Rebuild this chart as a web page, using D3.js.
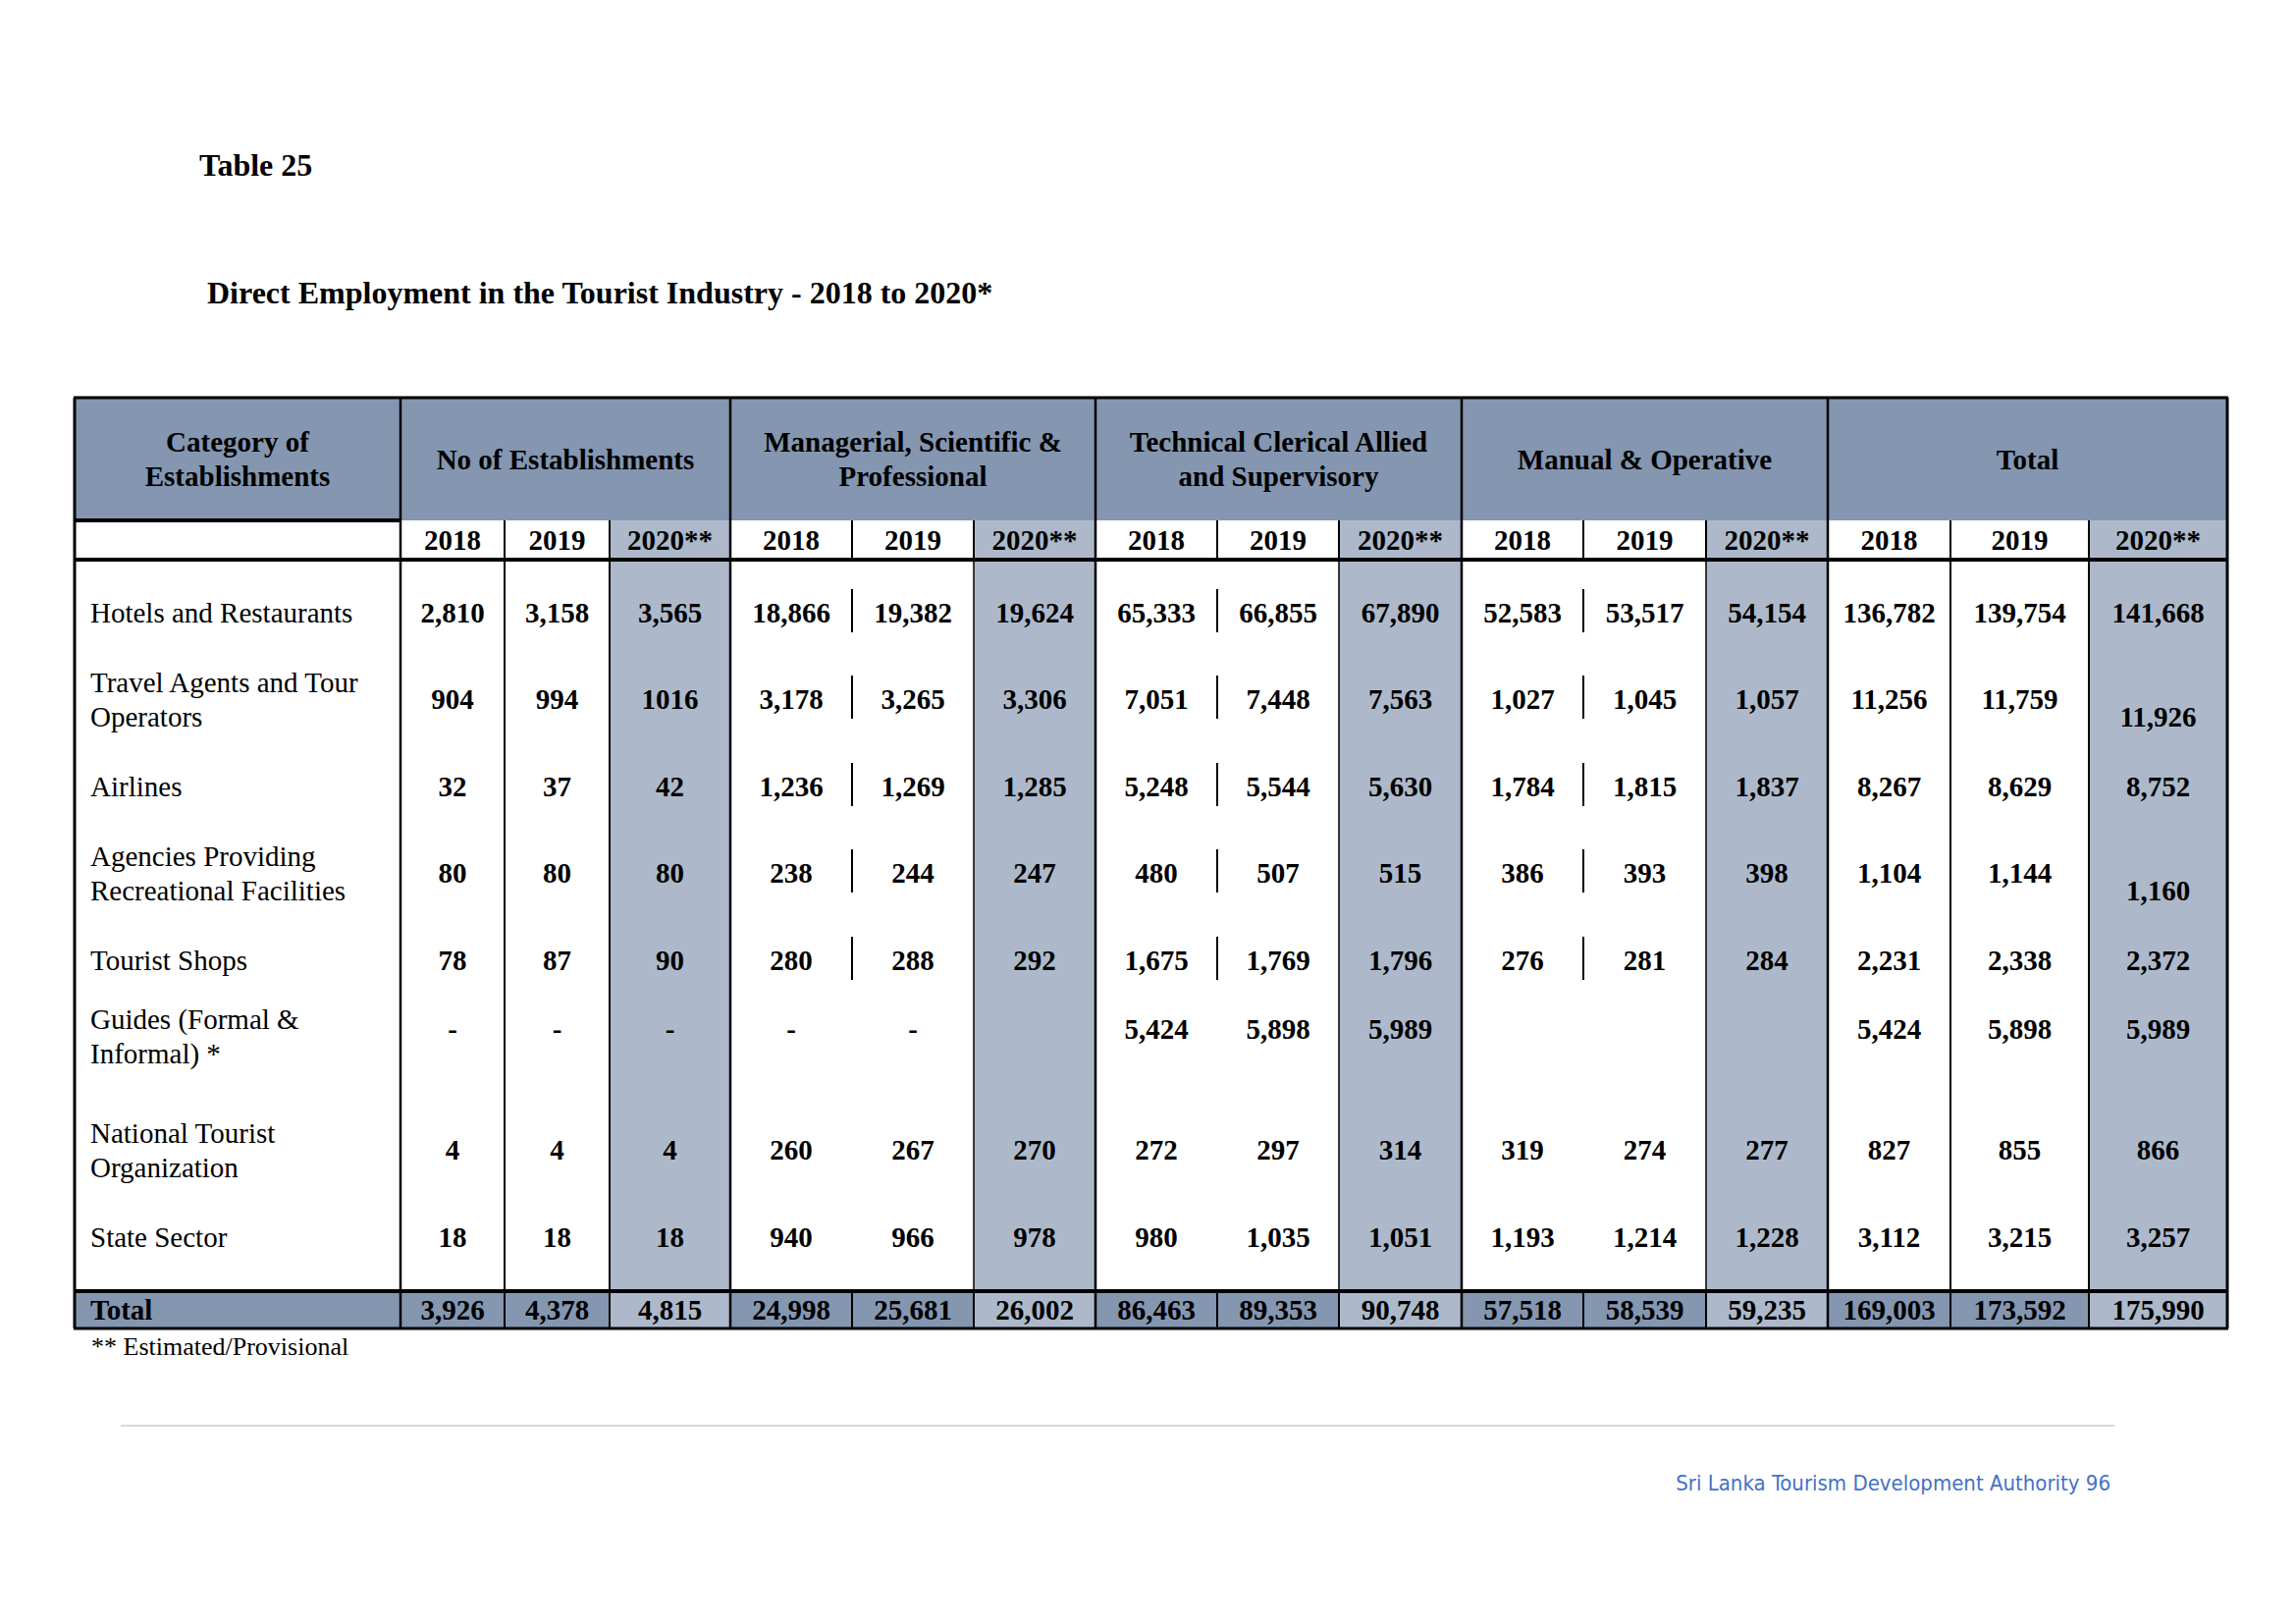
<!DOCTYPE html>
<html>
<head>
<style>
  body { margin:0; background:#fff; }
  text { font-family:"Liberation Serif","Times New Roman",serif; }
</style>
</head>
<body>
<div id="canvas"></div>
<script src="https://cdn.jsdelivr.net/npm/d3@7"></script>
<script>
var groups = [["No of Establishments"], ["Managerial, Scientific &", "Professional"],
              ["Technical Clerical Allied", "and Supervisory"], ["Manual & Operative"], ["Total"]];
var years = ["2018", "2019", "2020**"];
var categories = [["Hotels and Restaurants"], ["Travel Agents and Tour", "Operators"], ["Airlines"],
                  ["Agencies Providing", "Recreational Facilities"], ["Tourist Shops"],
                  ["Guides (Formal &", "Informal) *"], ["National Tourist", "Organization"], ["State Sector"]];
var establishments = [["2,810","3,158","3,565"],["904","994","1016"],["32","37","42"],["80","80","80"],
                      ["78","87","90"],["-","-","-"],["4","4","4"],["18","18","18"]];
var managerial = [["18,866","19,382","19,624"],["3,178","3,265","3,306"],["1,236","1,269","1,285"],
                  ["238","244","247"],["280","288","292"],["-","-",""],["260","267","270"],["940","966","978"]];
var technical = [["65,333","66,855","67,890"],["7,051","7,448","7,563"],["5,248","5,544","5,630"],
                 ["480","507","515"],["1,675","1,769","1,796"],["5,424","5,898","5,989"],["272","297","314"],
                 ["980","1,035","1,051"]];
var manual = [["52,583","53,517","54,154"],["1,027","1,045","1,057"],["1,784","1,815","1,837"],
              ["386","393","398"],["276","281","284"],["","",""],["319","274","277"],["1,193","1,214","1,228"]];
var totals = [["136,782","139,754","141,668"],["11,256","11,759","11,926"],["8,267","8,629","8,752"],
              ["1,104","1,144","1,160"],["2,231","2,338","2,372"],["5,424","5,898","5,989"],
              ["827","855","866"],["3,112","3,215","3,257"]];
var totalRow = ["3,926","4,378","4,815","24,998","25,681","26,002","86,463","89,353","90,748",
                "57,518","58,539","59,235","169,003","173,592","175,990"];

var W = 2339, H = 1654, dark = "#8496b0", light = "#adb9ca";
var svg = d3.select("#canvas").append("svg").attr("width", W).attr("height", H);

// column edges (label column + 15 year columns)
var colW = [332, 106,107,123, 124,124,124, 124,124,125, 124,125,124, 125,141,141];
var edges = [76]; colW.forEach(function (w) { edges.push(edges[edges.length - 1] + w); });
var right = edges[edges.length - 1];
var topY = 405, hdrB = 530, yrB = 570, totT = 1315, totB = 1353;
var rowY = d3.scaleOrdinal().domain(d3.range(8)).range([624, 712, 801, 889, 978, 1048, 1171, 1260]);

svg.append("text").attr("x", 203).attr("y", 179).attr("font-size", 32).attr("font-weight", "bold").text("Table 25");
svg.append("text").attr("x", 211).attr("y", 309).attr("font-size", 32).attr("font-weight", "bold")
  .text("Direct Employment in the Tourist Industry - 2018 to 2020*");

function band(c0, c1, y0, y1, fill) {
  svg.append("rect").attr("x", edges[c0]).attr("y", y0).attr("width", edges[c1] - edges[c0])
    .attr("height", y1 - y0).attr("fill", fill);
}
// shading
band(0, 16, topY, hdrB, dark);
band(0, 16, totT, totB, dark);
d3.range(5).forEach(function (g) { var c = 3 + g * 3; band(c, c + 1, hdrB, totT, light); });
[3, 6, 9, 12, 15].forEach(function (c) { band(c, c + 1, totT, totB, light); });

function line(x1, y1, x2, y2, w) {
  svg.append("line").attr("x1", x1).attr("y1", y1).attr("x2", x2).attr("y2", y2)
    .attr("stroke", "#000").attr("stroke-width", w);
}
// header text
var hdr = svg.append("g").attr("font-weight", "bold").attr("font-size", 29).attr("text-anchor", "middle");
function multi(g, x, yc, lines, lh) {
  lines.forEach(function (s, i) {
    g.append("text").attr("x", x).attr("y", yc + (i - (lines.length - 1) / 2) * lh + 10).text(s);
  });
}
multi(hdr, (edges[0] + edges[1]) / 2, (topY + hdrB) / 2, ["Category of", "Establishments"], 35);
groups.forEach(function (g, i) {
  multi(hdr, (edges[1 + i * 3] + edges[4 + i * 3]) / 2, (topY + hdrB) / 2, g, 35);
  years.forEach(function (y, j) {
    var c = 1 + i * 3 + j;
    hdr.append("text").attr("x", (edges[c] + edges[c + 1]) / 2).attr("y", 560).text(y);
  });
});

// body
var series = [establishments, managerial, technical, manual, totals];
var body = svg.append("g").attr("font-size", 29);
categories.forEach(function (cat, r) {
  var yc = rowY(r), topAlign = r === 5;
  cat.forEach(function (s, i) {
    var y = topAlign ? yc + i * 35 : yc + (i - (cat.length - 1) / 2) * 35 + 10;
    body.append("text").attr("x", edges[0] + 16).attr("y", y).text(s);
  });
  series.forEach(function (ser, g) {
    ser[r].forEach(function (v, j) {
      var c = 1 + g * 3 + j;
      var dy = (g === 4 && j === 2 && (r === 1 || r === 3)) ? 18 : 0;
      body.append("text").attr("x", (edges[c] + edges[c + 1]) / 2).attr("y", yc + 10 + dy)
        .attr("text-anchor", "middle").attr("font-weight", "bold").text(v);
    });
    if ((g === 1 || g === 2 || g === 3) && r < 5) line(edges[2 + g * 3], yc - 24, edges[2 + g * 3], yc + 20, 2);
  });
});
var tot = svg.append("g").attr("font-size", 29).attr("font-weight", "bold");
tot.append("text").attr("x", edges[0] + 16).attr("y", 1344).text("Total");
totalRow.forEach(function (v, i) {
  tot.append("text").attr("x", (edges[i + 1] + edges[i + 2]) / 2).attr("y", 1344).attr("text-anchor", "middle").text(v);
});

// grid lines
line(edges[0] - 1, topY, right + 1, topY, 3);
line(edges[0], hdrB, edges[1], hdrB, 4);
line(edges[0], yrB, right, yrB, 4);
line(edges[0], totT, right, totT, 4);
line(edges[0] - 1, totB, right + 1, totB, 3);
line(edges[0], topY, edges[0], totB, 3);
line(right, topY, right, totB, 3);
[1, 4, 7, 10, 13].forEach(function (c) { line(edges[c], topY, edges[c], totB, 2.5); });
[2, 3, 14, 15].forEach(function (c) { line(edges[c], hdrB, edges[c], totB, 2); });
[5, 6, 8, 9, 11, 12].forEach(function (c) { line(edges[c], hdrB, edges[c], yrB, 2); line(edges[c], totT, edges[c], totB, 2); });
[6, 9, 12].forEach(function (c) { line(edges[c], yrB, edges[c], totT, 1.5); });

svg.append("text").attr("x", 93).attr("y", 1380).attr("font-size", 26).text("** Estimated/Provisional");
svg.append("line").attr("x1", 123).attr("x2", 2154).attr("y1", 1452).attr("y2", 1452).attr("stroke", "#d9d9d9").attr("stroke-width", 2);
svg.append("text").attr("x", 2150).attr("y", 1518).attr("text-anchor", "end").attr("font-size", 22)
  .attr("fill", "#4472c4").style("font-family", "'Comic Sans MS','DejaVu Sans Condensed','DejaVu Sans',sans-serif")
  .text("Sri Lanka Tourism Development Authority 96");
</script>
</body>
</html>
